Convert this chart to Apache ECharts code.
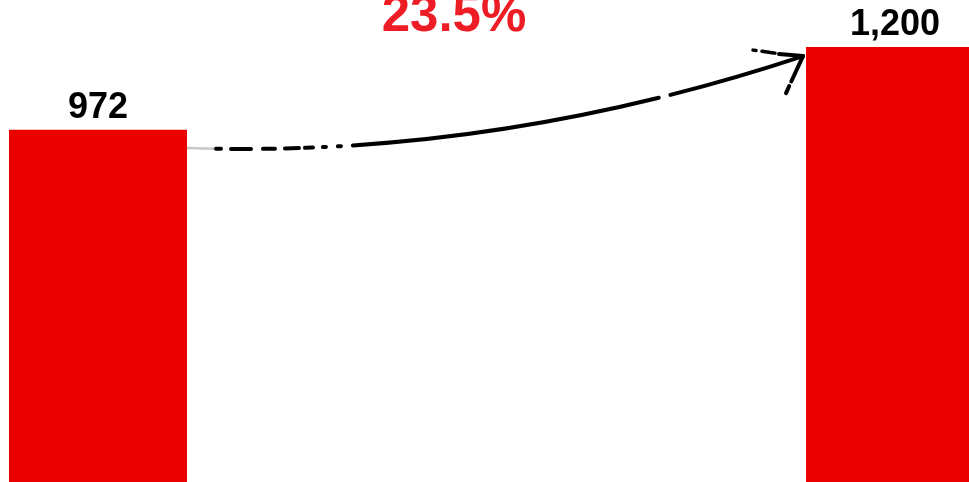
<!DOCTYPE html>
<html>
<head>
<meta charset="utf-8">
<script src="https://cdn.jsdelivr.net/npm/echarts@6/dist/echarts.min.js"></script>
<style>
  html, body { margin: 0; padding: 0; background: #fff; }
  #chart { width: 969px; height: 482px; }
</style>
</head>
<body>
<div id="chart"></div>
<script>
// Two periods compared, with the growth between them
const categories = ['Before', 'After'];
const values = [972, 1200];

const growthPct = ((values[1] / values[0] - 1) * 100).toFixed(1) + '%';

const chart = echarts.init(document.getElementById('chart'));

chart.setOption({
  animation: false,
  grid: { left: 98, right: 74, top: 0, bottom: 0 },
  xAxis: {
    type: 'category',
    data: categories,
    boundaryGap: false,
    show: false
  },
  yAxis: {
    type: 'value',
    min: 0,
    max: 1330,
    show: false
  },
  series: [{
    type: 'bar',
    data: values,
    barWidth: 178,
    itemStyle: { color: '#eb0000' },
    label: {
      show: true,
      position: 'top',
      distance: 4,
      fontFamily: 'Liberation Sans, Arial, sans-serif',
      fontWeight: 'bold',
      fontSize: 36,
      color: '#000',
      formatter: p => p.value.toLocaleString('en-US')
    }
  }]
});

// Curved growth arrow from the first bar toward the top of the second
const p0 = chart.convertToPixel({ gridIndex: 0 }, [0, values[0]]);
const p1 = chart.convertToPixel({ gridIndex: 0 }, [1, values[1]]);
const start = [p0[0] + 80, p0[1] + 18];
const end = [p1[0] - 92, p1[1] + 9];
const ctrl = [(start[0] + end[0]) / 2, start[1] + 12];
const curve = {
  x1: start[0], y1: start[1],
  x2: end[0], y2: end[1],
  cpx1: ctrl[0], cpy1: ctrl[1]
};

chart.setOption({
  graphic: [
    {
      // faint lead-in where the stroke leaves the first bar
      type: 'bezierCurve',
      shape: curve,
      style: { stroke: '#c8c8c8', lineWidth: 2.5, fill: null, lineDash: [36, 2000] }
    },
    {
      type: 'bezierCurve',
      shape: curve,
      style: {
        stroke: '#000',
        lineWidth: 4,
        fill: null,
        lineCap: 'round',
        lineDash: [0, 38, 5, 10, 20, 12, 12, 10, 14, 6, 8, 10, 3, 12, 3, 12, 310, 12, 400, 0]
      }
    },
    {
      type: 'polyline',
      shape: { points: [[end[0] - 50, end[1] - 6], [end[0] - 28, end[1] - 3]] },
      style: { stroke: '#000', lineWidth: 3.5, lineDash: [3, 6, 12, 0], lineCap: 'round' }
    },
    {
      type: 'polyline',
      shape: { points: [[end[0] - 24, end[1] - 2], [end[0], end[1]]] },
      style: { stroke: '#000', lineWidth: 4, lineCap: 'round' }
    },
    {
      type: 'polyline',
      shape: { points: [[end[0], end[1]], [end[0] - 12, end[1] + 26], [end[0] - 17, end[1] + 37]] },
      style: { stroke: '#000', lineWidth: 4, lineCap: 'round', lineDash: [28, 5, 6, 0] }
    },
    {
      type: 'text',
      x: 454,
      y: -9,
      style: {
        text: growthPct,
        fontFamily: 'Liberation Sans, Arial, sans-serif',
        fontWeight: 'bold',
        fontSize: 51,
        fill: '#ee1c25',
        align: 'center',
        verticalAlign: 'top'
      }
    }
  ]
});
</script>
</body>
</html>
